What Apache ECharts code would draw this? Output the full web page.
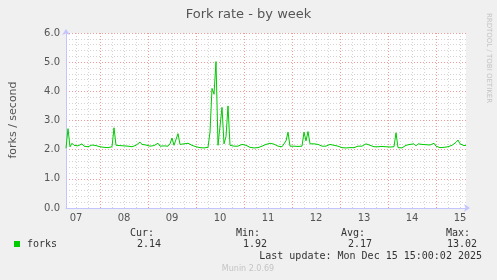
<!DOCTYPE html>
<html><head><meta charset="utf-8">
<script src="https://cdn.jsdelivr.net/npm/echarts@6/dist/echarts.min.js"></script>
<style>html,body{margin:0;padding:0;background:#f0f0f0}#c{width:497px;height:280px}</style>
</head><body><div id="c"></div>
<script>
// hours since Mon Dec 7 00:00; series sampled hourly from 07:00 Dec 7 to 15:00 Dec 15
const startHour = 7;
const endHour = 207;
const forks = [
2.05,2.72,2.1,2.22,2.15,2.18,2.13,2.15,2.2,2.12,2.15,2.1,2.14,2.16,2.22,2.14,2.2,2.1,2.12,2.08,
2.08,2.07,2.08,2.1,2.75,2.15,2.18,2.14,2.17,2.13,2.15,2.12,2.16,2.1,2.12,2.15,2.2,2.26,2.18,2.14,
2.16,2.1,2.12,2.1,2.14,2.12,2.22,2.12,2.15,2.13,2.16,2.12,2.2,2.4,2.15,2.2,2.55,2.18,2.15,2.2,
2.18,2.22,2.18,2.15,2.12,2.1,2.08,2.07,2.06,2.06,2.07,2.08,2.6,4.1,3.9,5.02,2.15,2.2,3.45,2.2,
2.45,3.5,2.15,2.18,2.12,2.15,2.12,2.14,2.18,2.22,2.15,2.12,2.08,2.07,2.06,2.06,2.07,2.08,2.12,2.15,
2.18,2.16,2.22,2.17,2.19,2.15,2.12,2.14,2.1,2.13,2.3,2.6,2.12,2.1,2.12,2.1,2.11,2.1,2.12,2.6,
2.3,2.62,2.2,2.17,2.2,2.15,2.18,2.14,2.12,2.1,2.12,2.14,2.18,2.22,2.15,2.2,2.12,2.1,2.07,2.07,
2.06,2.07,2.07,2.06,2.07,2.07,2.12,2.15,2.12,2.17,2.2,2.26,2.15,2.12,2.1,2.15,2.1,2.1,2.11,2.1,
2.1,2.1,2.09,2.1,2.1,2.58,2.07,2.06,2.06,2.08,2.15,2.12,2.18,2.14,2.2,2.13,2.2,2.14,2.18,2.12,
2.17,2.14,2.16,2.18,2.22,2.12,2.08,2.07,2.07,2.08,2.07,2.1,2.12,2.15,2.2,2.25,2.33,2.2,2.18,2.14,
2.15
];
const dayLabels = ['07','08','09','10','11','12','13','14','15'];
const dayNoonHours = [12,36,60,84,108,132,156,180,204];
const midnightHours = [24,48,72,96,120,144,168,192];
const minorHours = [12,18,30,36,42,54,60,66,78,84,90,102,108,114,126,132,138,150,156,162,174,180,186,198,204];
const statLabels = ['Cur:','Min:','Avg:','Max:'];
const statValues = ['2.14','1.92','2.17','13.02'];
const seriesName = 'forks';
const lastUpdate = 'Last update: Mon Dec 15 15:00:02 2025';

const data = forks.map((v, i) => [startHour + i, v]);
const mono = '10px "DejaVu Sans Mono"';
const statX = [154, 260, 365, 470];

const chart = echarts.init(document.getElementById('c'), null, {renderer: 'canvas'});
chart.setOption({
  backgroundColor: '#f0f0f0',
  animation: false,
  grid: {left: 66, right: 31, top: 33, bottom: 72, show: true, backgroundColor: '#ffffff', borderWidth: 0},
  title: {text: 'Fork rate - by week', left: 'center', top: 3,
    textStyle: {fontFamily: 'DejaVu Sans', fontSize: 13, fontWeight: 'normal', color: '#555'}},
  xAxis: {
    type: 'value', min: startHour, max: endHour,
    axisLine: {show: true, lineStyle: {color: '#c4c4ff', width: 1}, symbol: ['none', 'arrow'], symbolSize: [6, 6], symbolOffset: [0, 4]},
    axisTick: {show: false},
    splitLine: {show: false},
    axisLabel: {customValues: dayNoonHours, margin: 5, color: '#555', fontFamily: 'DejaVu Sans', fontSize: 10,
      formatter: v => dayLabels[dayNoonHours.indexOf(v)] || ''}
  },
  yAxis: {
    type: 'value', min: 0, max: 6, interval: 1,
    axisLine: {show: true, lineStyle: {color: '#c4c4ff', width: 1}, symbol: ['none', 'arrow'], symbolSize: [6, 6], symbolOffset: [0, 4]},
    axisTick: {show: false},
    axisLabel: {margin: 6, color: '#555', fontFamily: 'DejaVu Sans', fontSize: 10, formatter: v => v.toFixed(1)},
    splitLine: {show: true, lineStyle: {color: '#f29a9a', type: [1, 2], width: 1}},
    minorTick: {show: false, splitNumber: 5},
    minorSplitLine: {show: true, lineStyle: {color: '#d4d4d4', type: [1, 2], width: 1}}
  },
  series: [
    {type: 'line', data: [], silent: true, z: 1,
      markLine: {silent: true, symbol: 'none', label: {show: false}, animation: false,
        lineStyle: {color: '#d4d4d4', type: [1, 2], width: 1},
        data: minorHours.map(h => ({xAxis: h}))}},
    {type: 'line', data: [], silent: true, z: 1,
      markLine: {silent: true, symbol: 'none', label: {show: false}, animation: false,
        lineStyle: {color: '#f29a9a', type: [1, 2], width: 1},
        data: midnightHours.map(h => ({xAxis: h}))}},
    {name: seriesName, type: 'line', data: data, showSymbol: false, z: 5,
      lineStyle: {color: '#00cc00', width: 1}, itemStyle: {color: '#00cc00'}}
  ],
  graphic: [
    {type: 'text', x: 13, y: 120, rotation: Math.PI / 2,
      style: {text: 'forks / second', font: '11px "DejaVu Sans"', fill: '#555', textAlign: 'center', textVerticalAlign: 'middle'}},
    {type: 'text', x: 489, y: 58, rotation: -Math.PI / 2,
      style: {text: 'RRDTOOL / TOBI OETIKER', font: '7px "DejaVu Sans"', fill: '#c4c4c4', textAlign: 'center', textVerticalAlign: 'middle'}},
    {type: 'rect', shape: {x: 14, y: 241, width: 6, height: 6}, style: {fill: '#00cc00'}},
    {type: 'text', x: 27, y: 244, style: {text: seriesName, font: mono, fill: '#333', textVerticalAlign: 'middle'}},
    ...statLabels.map((t, i) => ({type: 'text', x: statX[i], y: 233,
      style: {text: t, font: mono, fill: '#333', textAlign: 'right', textVerticalAlign: 'middle'}})),
    ...statValues.map((t, i) => ({type: 'text', x: statX[i] + 7, y: 244,
      style: {text: t, font: mono, fill: '#333', textAlign: 'right', textVerticalAlign: 'middle'}})),
    {type: 'text', x: 482, y: 256, style: {text: lastUpdate, font: mono, fill: '#333', textAlign: 'right', textVerticalAlign: 'middle'}},
    {type: 'text', x: 248, y: 269, style: {text: 'Munin 2.0.69', font: '8px "DejaVu Sans"', fill: '#c4c4c4', textAlign: 'center', textVerticalAlign: 'middle'}}
  ]
});
</script></body></html>
